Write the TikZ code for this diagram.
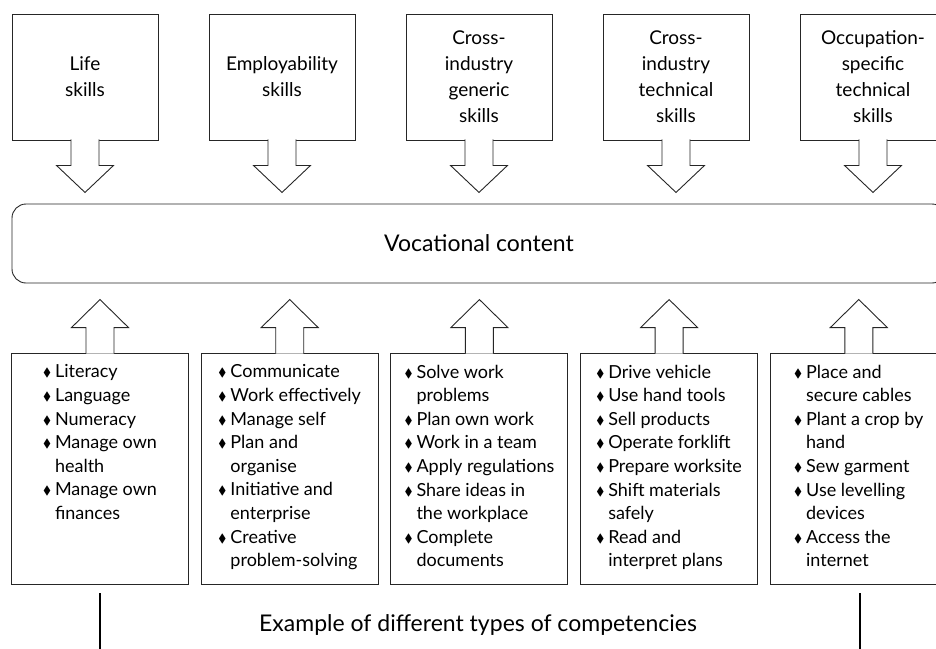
\documentclass[tikz,border=0pt]{standalone}
\usepackage{fontspec}
\setmainfont{Lato}
\usepackage{amssymb}
\usepackage{tikz}
\usetikzlibrary{calc,positioning}

\tikzset{
  skillbox/.style={draw=black!85, line width=0.9pt, fill=white, minimum width=146pt, minimum height=126pt, inner sep=0pt, align=center, font=\fontsize{19}{26}\selectfont},
  compbox/.style={draw=black!85, line width=0.9pt, fill=white, minimum width=177pt, minimum height=231pt, inner sep=0pt},
  complist/.style={inner sep=0pt, align=left, font=\fontsize{18}{23.6}\selectfont},
  blockarrow/.style={draw=black!85, line width=0.9pt, fill=white, line join=miter},
  bigtext/.style={font=\fontsize{23}{28}\selectfont},
}
\newcommand{\bul}{\makebox[12pt][l]{\raisebox{1pt}{\fontsize{12}{12}\selectfont$\blacklozenge$}}}
\newcommand{\ind}{\hspace*{12pt}}

\begin{document}
\begin{tikzpicture}[x=1pt,y=-1pt]
\useasboundingbox (0,0) rectangle (936,648);
\clip (0,0) rectangle (936,648);
\node[skillbox] (t1) at (85,77) {Life\\skills};
\node[skillbox] (t2) at (282,77) {Employability\\skills};
\node[skillbox] (t3) at (479,77) {Cross-\\industry\\generic\\skills};
\node[skillbox] (t4) at (676,77) {Cross-\\industry\\technical\\skills};
\node[skillbox] (t5) at (873,77) {Occupation-\\specific\\technical\\skills};
\node[draw=black!85, line width=0.9pt, rounded corners=14pt, minimum width=934pt, minimum height=79pt, bigtext] (voc) at (479,243.5) {Vocational content};
\node[compbox] (b1) at (100,468.5) {};
\node[compbox] (b2) at (289.7,468.5) {};
\node[compbox] (b3) at (479.4,468.5) {};
\node[compbox] (b4) at (669.1,468.5) {};
\node[compbox] (b5) at (858.8,468.5) {};
\foreach \i in {1,...,5} {
  \filldraw[blockarrow] ($(t\i.south)+(-14,-1)$) -- ($(t\i.south)+(-14,25)$) -- ($(t\i.south)+(-28.5,25)$) -- ($(t\i.south)+(0,52)$) -- ($(t\i.south)+(28.5,25)$) -- ($(t\i.south)+(14,25)$) -- ($(t\i.south)+(14,-1)$);
  \filldraw[blockarrow] ($(b\i.north)+(-14,1)$) -- ($(b\i.north)+(-14,-25)$) -- ($(b\i.north)+(-28.5,-25)$) -- ($(b\i.north)+(0,-53)$) -- ($(b\i.north)+(28.5,-25)$) -- ($(b\i.north)+(14,-25)$) -- ($(b\i.north)+(14,1)$);
}
\node[complist, below=12pt of b1.north] (l1) {\bul Literacy\\\bul Language\\\bul Numeracy\\\bul Manage own\\\ind health\\\bul Manage own\\\ind finances};
\node[complist, below=12pt of b2.north] (l2) {\bul Communicate\\\bul Work effectively\\\bul Manage self\\\bul Plan and\\\ind organise\\\bul Initiative and\\\ind enterprise\\\bul Creative\\\ind problem-solving};
\node[complist, below=12pt of b3.north] (l3) {\bul Solve work\\\ind problems\\\bul Plan own work\\\bul Work in a team\\\bul Apply regulations\\\bul Share ideas in\\\ind the workplace\\\bul Complete\\\ind documents};
\node[complist, below=12pt of b4.north] (l4) {\bul Drive vehicle\\\bul Use hand tools\\\bul Sell products\\\bul Operate forklift\\\bul Prepare worksite\\\bul Shift materials\\\ind safely\\\bul Read and\\\ind interpret plans};
\node[complist, below=12pt of b5.north] (l5) {\bul Place and\\\ind secure cables\\\bul Plant a crop by\\\ind hand\\\bul Sew garment\\\bul Use levelling\\\ind devices\\\bul Access the\\\ind internet};
\node[bigtext] (ex) at (478,625) {Example of different types of competencies};
\draw[line width=1.4pt] ($(b1.south)+(0,9)$) -- ($(b1.south)+(0,70)$);
\draw[line width=1.4pt] ($(b5.south)+(1,9)$) -- ($(b5.south)+(1,70)$);
\end{tikzpicture}
\end{document}
